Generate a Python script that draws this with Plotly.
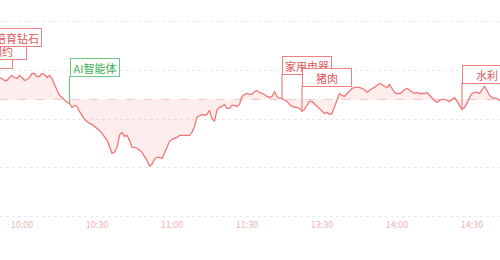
import plotly.graph_objects as go

# ---------------- data ----------------
# minute index of trading day (09:30 = 0, 11:30/13:00 = 120, 15:00 = 240)
start_minute = 21
# change vs previous close (index points), one value per minute from start_minute
change = [
    4.49, 4.29, 3.88, 3.88, 4.49, 4.90, 4.49, 4.29, 4.90, 4.49,
    3.88, 4.08, 4.49, 5.31, 5.31, 4.69, 4.69, 5.31, 5.10, 4.49,
    4.90, 4.29, 3.06, 1.84, 0.82, 0.41, -0.20, -0.61, -0.82, -1.63,
    -1.22, -1.43, -2.45, -3.27, -4.08, -4.49, -4.90, -5.10, -5.51, -5.92,
    -6.33, -6.94, -7.55, -8.37, -9.59, -11.02, -10.82, -9.80, -7.35, -6.73,
    -7.55, -7.35, -8.37, -9.80, -9.80, -10.00, -10.41, -10.82, -11.63, -12.45,
    -13.67, -13.27, -12.24, -11.84, -11.84, -12.04, -11.02, -9.80, -8.57, -8.16,
    -7.96, -7.76, -7.35, -7.35, -7.35, -7.35, -7.35, -6.73, -5.51, -3.67,
    -3.27, -3.06, -3.27, -3.06, -2.24, -3.88, -4.49, -2.24, -1.63, -1.43,
    -1.02, -1.84, -1.84, -1.22, -1.22, -1.43, -1.02, 0.61, 1.02, 1.22,
    1.02, 1.02, 1.63, 1.84, 1.43, 1.22, 1.02, 0.61, 0.41, 0.61,
    1.63, 0.61, 0.20, 0.20, -0.20, -0.41, -1.02, -1.43, -1.63, -1.63,
    -1.84, -2.45, -2.04, -1.22, -0.41, -0.41, -1.02, -1.43, -1.84, -2.45,
    -2.86, -2.65, -3.06, -2.86, -1.43, 0.20, 1.22, 0.82, 0.61, 1.22,
    1.84, 2.24, 2.45, 2.45, 2.45, 2.24, 2.04, 1.43, 1.84, 2.24,
    2.45, 2.86, 3.27, 3.06, 2.65, 2.45, 3.06, 2.24, 1.43, 1.22,
    1.22, 1.43, 2.04, 2.24, 1.84, 1.43, 1.22, 1.43, 1.22, 1.22,
    1.22, 1.43, 0.82, 0.20, -0.20, -0.61, -0.20, 0.00, 0.00, -0.20,
    -0.41, 0.00, 0.41, -0.41, -1.22, -2.04, -1.63, -0.82, 0.41, 1.22,
    1.43, 1.43, 1.22, 1.84, 2.65, 1.84, 0.82, 0.41, 0.20, 0.20,
    -0.20, -0.20,
]
tick_minutes = [30, 60, 90, 120, 150, 180, 210]
tick_labels = ["10:00", "10:30", "11:00", "11:30", "13:30", "14:00", "14:30"]

# concept events visible in the window
event_minutes = [49, 134, 142, 206]
event_labels = ["AI智能体", "家用电器", "猪肉", "水利"]
event_colors = ["green", "red", "red", "red"]
# events whose marker time is left of the visible window (labels only partly visible)
early_labels = ["体", "网约", "培育钻石"]

# ---------------- styling ----------------
LINE = "#f27676"
RED_TXT, RED_BD = "#e0555a", "#ef8080"
GRN_TXT, GRN_BD = "#39ad57", "#6cc984"
FONT = "Noto Sans CJK SC, Noto Sans, sans-serif"

x = list(range(start_minute, start_minute + len(change)))
base = [0.0 for _ in x]

fig = go.Figure()
fig.add_trace(go.Scatter(x=x, y=base, mode="lines",
                         line=dict(color="#f6c4c4", width=1, dash="dash"),
                         hoverinfo="skip", showlegend=False))
fig.add_trace(go.Scatter(x=x, y=change, mode="lines", fill="tonexty",
                         fillcolor="rgba(240,110,110,0.12)",
                         line=dict(color=LINE, width=1.3),
                         showlegend=False))

# label placement (layout positions)
label_center = {"AI智能体": 6.53, "家用电器": 6.94, "猪肉": 4.59, "水利": 5.2}
half_h = 1.8

annotations = []
for t, lab, col in zip(event_minutes, event_labels, event_colors):
    txt, bd = (GRN_TXT, GRN_BD) if col == "green" else (RED_TXT, RED_BD)
    yc = label_center[lab]
    yv = change[t - start_minute]
    fig.add_trace(go.Scatter(x=[t, t], y=[yv, yc - half_h], mode="lines",
                             line=dict(color=bd, width=1.2),
                             hoverinfo="skip", showlegend=False))
    annotations.append(dict(x=t, y=yc, xref="x", yref="y", text=lab,
                            showarrow=False, xanchor="left", yanchor="middle",
                            font=dict(family=FONT, size=11, color=txt),
                            bgcolor="white", bordercolor=bd, borderwidth=1,
                            borderpad=1, width=46, height=15, align="center"))

early_pos = {"体": (26.4, 8.1), "网约": (32.0, 10.0), "培育钻石": (38.0, 12.6)}
early_ann = []
for lab in early_labels:
    xe, ye = early_pos[lab]
    early_ann.append(dict(x=xe, y=ye, xref="x", yref="y", text=lab,
                          showarrow=False, xanchor="right", yanchor="middle",
                          font=dict(family=FONT, size=11, color=RED_TXT),
                          bgcolor="white", bordercolor=RED_BD, borderwidth=1,
                          borderpad=1, width=46, height=15, align="center"))

# draw order: 家用电器 under 猪肉, left stack bottom-first
fig.update_layout(annotations=early_ann + annotations)

fig.update_layout(
    width=500, height=260,
    margin=dict(l=0, r=0, t=20, b=42),
    paper_bgcolor="white", plot_bgcolor="white",
    font=dict(family=FONT),
    xaxis=dict(range=[21.2, 221.2], tickmode="array", tickvals=tick_minutes,
               ticktext=tick_labels, showgrid=False, zeroline=False,
               showline=False, ticks="",
               tickfont=dict(size=9, color="#f4b2b2", family=FONT)),
    yaxis=dict(range=[-24.25, 16.25], tick0=6, dtick=10, showticklabels=False,
               showgrid=True, gridcolor="#e9e9e9", griddash="dot",
               zeroline=False, showline=False, ticks=""),
)

fig.write_html("out.html")
